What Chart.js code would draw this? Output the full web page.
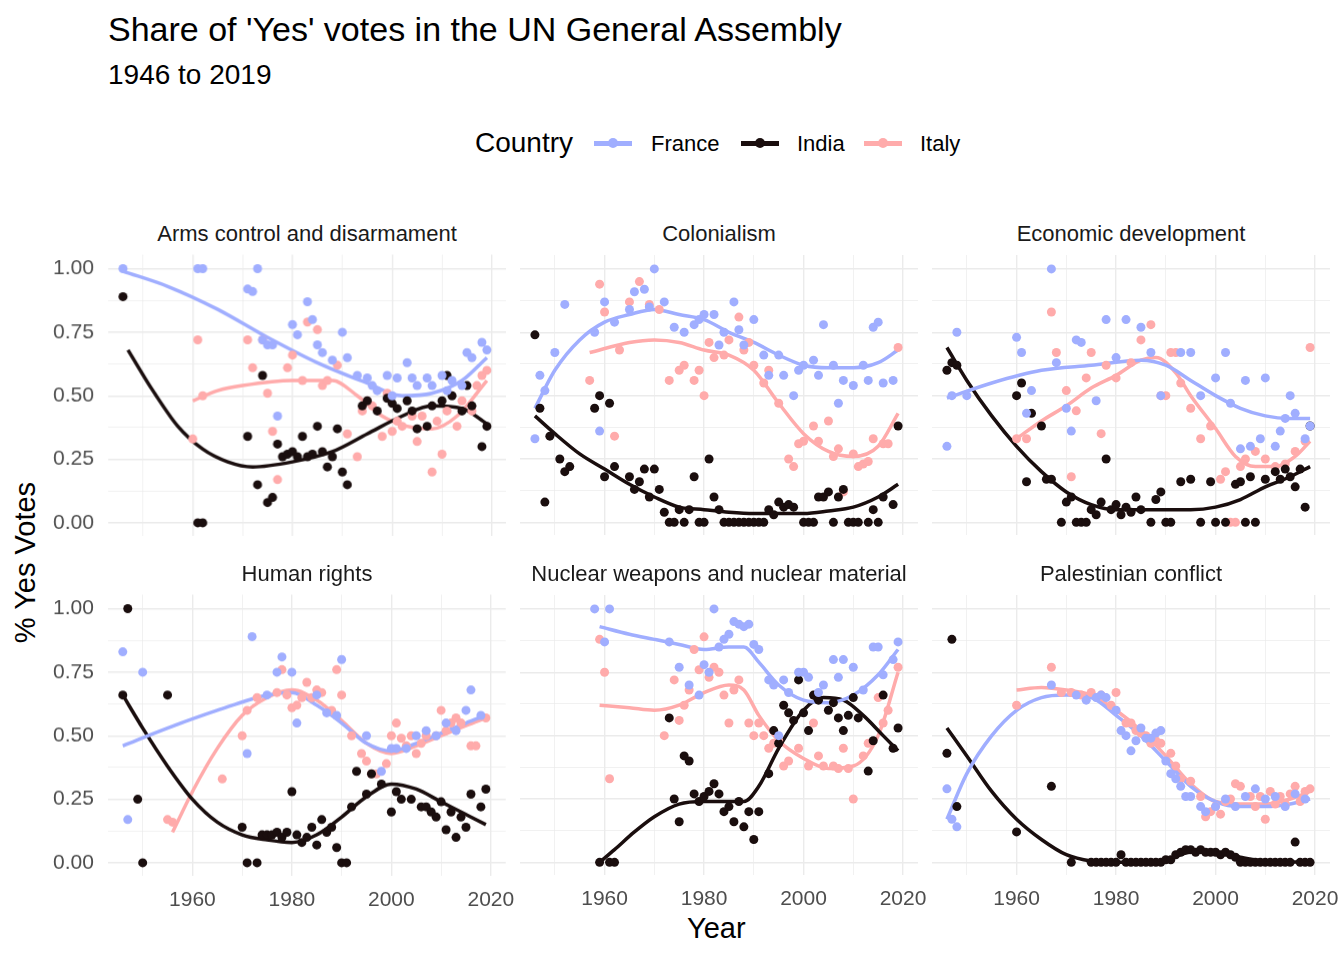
<!DOCTYPE html>
<html>
<head>
<meta charset="utf-8">
<script src="https://cdn.jsdelivr.net/npm/chart.js@4.4.0/dist/chart.umd.min.js"></script>
<style>
  body { margin: 0; background: #fff; font-family: "Liberation Sans", Arial, sans-serif; }
  #wrap { position: relative; width: 1344px; height: 960px; overflow: hidden; }
  .txt { position: absolute; color: #000; white-space: nowrap; }
  .strip { position: absolute; font-size: 22px; color: #1a1a1a; text-align: center; width: 395px; }
  .cell { position: absolute; }
  .key { position: absolute; width: 38px; height: 5px; top: 141px; }
  .key span { position: absolute; left: 14px; top: -3px; width: 10px; height: 10px; border-radius: 50%; }
</style>
</head>
<body>
<div id="wrap">
  <div class="txt" style="left:108px;top:10px;font-size:34px;">Share of 'Yes' votes in the UN General Assembly</div>
  <div class="txt" style="left:108px;top:59px;font-size:28px;">1946 to 2019</div>
  <div class="txt" style="left:475px;top:127px;font-size:28px;">Country</div>
  <div class="key" style="left:594px;background:#A0AEFF"><span style="background:#A0AEFF"></span></div>
  <div class="txt" style="left:651px;top:131px;font-size:22px;">France</div>
  <div class="key" style="left:741px;background:#1A0E0E"><span style="background:#1A0E0E"></span></div>
  <div class="txt" style="left:797px;top:131px;font-size:22px;">India</div>
  <div class="key" style="left:864px;background:#FFABAB"><span style="background:#FFABAB"></span></div>
  <div class="txt" style="left:920px;top:131px;font-size:22px;">Italy</div>
  <div class="txt" style="left:687px;top:912px;font-size:29px;">Year</div>
  <div class="txt" style="left:-55px;top:546px;font-size:29px;transform:rotate(-90deg);">% Yes Votes</div>
</div>
<script>
// Facet titles
const facets = ['Arms control and disarmament', 'Colonialism', 'Economic development',
  'Human rights', 'Nuclear weapons and nuclear material', 'Palestinian conflict'];
const countries = ['France', 'India', 'Italy'];
const colors = { France: '#A0AEFF', India: '#1A0E0E', Italy: '#FFABAB' };
const yTicks = [0, 0.25, 0.5, 0.75, 1];
const xTicks = [1960, 1980, 2000, 2020];

// --- Arms control and disarmament ---
const armsFrance = [[1946,1],[1961,1],[1962,1],[1971,.92],[1972,.91],[1973,1],[1974,.72],[1975,.7],[1976,.7],[1977,.42],[1980,.78],[1981,.74],[1983,.87],[1984,.8],[1985,.7],[1986,.67],[1988,.64],[1990,.75],[1991,.65],[1993,.58],[1995,.57],[1996,.54],[1997,.52],[1999,.58],[2000,.5],[2001,.57],[2003,.63],[2004,.57],[2005,.54],[2007,.57],[2008,.54],[2010,.58],[2011,.52],[2012,.56],[2014,.54],[2015,.67],[2016,.65],[2018,.71],[2019,.68]];
const armsIndia = [[1946,.89],[1961,0],[1962,0],[1971,.34],[1973,.15],[1974,.58],[1975,.08],[1976,.1],[1977,.31],[1978,.26],[1979,.27],[1980,.28],[1981,.26],[1982,.34],[1983,.26],[1984,.27],[1985,.38],[1986,.28],[1987,.22],[1988,.26],[1989,.37],[1990,.2],[1991,.15],[1994,.46],[1995,.48],[1997,.44],[1999,.49],[2000,.47],[2001,.45],[2003,.48],[2004,.44],[2005,.37],[2007,.38],[2008,.46],[2010,.48],[2011,.58],[2012,.5],[2014,.44],[2015,.54],[2016,.46],[2018,.3],[2019,.38]];
const armsItaly = [[1960,.33],[1961,.72],[1962,.5],[1971,.72],[1972,.61],[1974,.72],[1975,.51],[1976,.36],[1977,.17],[1979,.61],[1980,.66],[1982,.56],[1983,.79],[1985,.76],[1986,.54],[1987,.56],[1989,.62],[1991,.35],[1993,.26],[1994,.44],[1995,.48],[1996,.46],[1998,.34],[1999,.51],[2000,.36],[2001,.4],[2002,.38],[2004,.42],[2005,.32],[2006,.42],[2008,.2],[2009,.4],[2010,.27],[2011,.44],[2013,.38],[2014,.48],[2016,.44],[2017,.54],[2018,.58],[2019,.6]];
const armsFranceFit = [[1946,.99],[1955,.93],[1965,.84],[1975,.73],[1985,.63],[1995,.55],[2002,.5],[2008,.51],[2014,.56],[2019,.65]];
const armsIndiaFit = [[1947,.68],[1952,.52],[1957,.38],[1962,.29],[1967,.24],[1972,.22],[1980,.24],[1988,.28],[1995,.35],[2002,.42],[2008,.46],[2014,.45],[2019,.39]];
const armsItalyFit = [[1960,.48],[1965,.52],[1970,.54],[1980,.56],[1988,.56],[1993,.5],[1998,.42],[2003,.38],[2008,.37],[2013,.42],[2019,.56]];

// --- Colonialism ---
const colFrance = [[1946,.33],[1947,.58],[1948,.52],[1950,.67],[1952,.86],[1958,.75],[1959,.36],[1960,.87],[1962,.79],[1965,.84],[1966,.91],[1968,.92],[1969,.85],[1970,1],[1972,.87],[1974,.77],[1976,.75],[1978,.78],[1979,.8],[1980,.82],[1982,.82],[1983,.7],[1984,.75],[1986,.87],[1987,.76],[1988,.7],[1990,.8],[1992,.66],[1993,.58],[1995,.66],[1996,.58],[1998,.5],[1999,.6],[2000,.62],[2002,.64],[2003,.58],[2004,.78],[2006,.62],[2007,.47],[2008,.56],[2010,.54],[2012,.62],[2013,.56],[2014,.77],[2015,.79],[2016,.55],[2018,.56]];
const colIndia = [[1946,.74],[1947,.45],[1948,.08],[1949,.34],[1951,.25],[1952,.2],[1953,.22],[1958,.45],[1959,.5],[1960,.18],[1961,.47],[1962,.22],[1965,.18],[1966,.13],[1967,.16],[1968,.21],[1969,.1],[1970,.21],[1971,.13],[1972,.04],[1973,0],[1974,0],[1975,.05],[1976,0],[1977,.05],[1978,.18],[1979,0],[1980,0],[1981,.25],[1982,.1],[1983,.05],[1984,0],[1985,0],[1986,0],[1987,0],[1988,0],[1989,0],[1990,0],[1991,0],[1992,0],[1993,.05],[1994,.03],[1995,.08],[1996,.06],[1997,.07],[1998,.06],[2000,0],[2001,0],[2002,0],[2003,.1],[2004,.1],[2005,.12],[2006,0],[2007,.1],[2008,.13],[2009,0],[2010,0],[2011,0],[2013,0],[2014,.05],[2015,0],[2016,.1],[2018,.07],[2019,.38]];
const colItaly = [[1957,.56],[1959,.94],[1960,.83],[1962,.34],[1963,.68],[1965,.87],[1967,.95],[1969,.86],[1971,.84],[1973,.56],[1975,.6],[1976,.62],[1978,.56],[1979,.6],[1980,.5],[1981,.71],[1982,.65],[1984,.66],[1985,.72],[1987,.81],[1988,.68],[1989,.71],[1990,.62],[1992,.55],[1993,.6],[1995,.47],[1997,.25],[1998,.22],[1999,.31],[2000,.32],[2002,.38],[2003,.32],[2005,.4],[2006,.26],[2007,.29],[2008,.12],[2010,.27],[2011,.22],[2012,.23],[2013,.24],[2014,.33],[2016,.31],[2017,.31],[2019,.69]];
const colFranceFit = [[1946,.45],[1950,.6],[1955,.72],[1960,.79],[1965,.82],[1970,.84],[1975,.82],[1980,.8],[1985,.75],[1990,.71],[1995,.66],[2000,.62],[2005,.61],[2010,.61],[2015,.63],[2019,.68]];
const colIndiaFit = [[1946,.42],[1950,.35],[1955,.27],[1960,.21],[1965,.15],[1970,.1],[1975,.06],[1980,.05],[1985,.04],[1990,.035],[1995,.035],[2000,.035],[2005,.045],[2010,.06],[2015,.1],[2019,.15]];
const colItalyFit = [[1957,.67],[1965,.71],[1970,.72],[1975,.71],[1980,.68],[1985,.66],[1990,.6],[1995,.47],[2000,.35],[2005,.28],[2010,.26],[2015,.3],[2019,.43]];

// --- Economic development ---
const ecoFrance = [[1946,.3],[1947,.5],[1948,.75],[1950,.5],[1960,.73],[1961,.67],[1962,.43],[1963,.52],[1967,1],[1968,.63],[1970,.45],[1971,.36],[1972,.72],[1973,.71],[1976,.48],[1978,.8],[1980,.65],[1982,.8],[1985,.77],[1987,.67],[1989,.5],[1993,.67],[1995,.67],[1997,.5],[2000,.57],[2002,.67],[2003,.47],[2005,.29],[2006,.56],[2007,.3],[2009,.33],[2010,.57],[2012,.3],[2013,.36],[2014,.41],[2015,.5],[2016,.43],[2018,.33],[2019,.38]];
const ecoIndia = [[1946,.6],[1947,.63],[1948,.62],[1960,.5],[1961,.55],[1962,.16],[1963,.43],[1965,.38],[1966,.17],[1967,.17],[1969,0],[1970,.08],[1971,.1],[1972,0],[1973,0],[1974,0],[1975,.05],[1976,.03],[1977,.08],[1978,.25],[1979,.05],[1980,.07],[1981,.03],[1982,.06],[1983,.04],[1984,.1],[1985,.05],[1987,0],[1988,.09],[1989,.12],[1990,0],[1991,0],[1993,.16],[1995,.17],[1997,0],[1999,.16],[2000,0],[2002,0],[2004,.15],[2005,.16],[2006,0],[2007,.18],[2008,0],[2010,.17],[2012,.2],[2013,.17],[2014,.21],[2015,.18],[2016,.14],[2017,.21],[2018,.06],[2019,.38]];
const ecoItaly = [[1960,.33],[1962,.33],[1967,.83],[1968,.67],[1970,.52],[1971,.18],[1972,.44],[1974,.57],[1975,.67],[1977,.35],[1978,.62],[1980,.57],[1983,.63],[1985,.72],[1987,.78],[1989,.5],[1990,.5],[1991,.67],[1992,.67],[1993,.55],[1995,.45],[1997,.33],[1999,.38],[2001,.17],[2002,.2],[2003,0],[2004,0],[2005,.22],[2006,.25],[2008,.28],[2010,.25],[2012,.22],[2014,.23],[2016,.28],[2018,.32],[2019,.69]];
const ecoFranceFit = [[1946,.49],[1955,.55],[1965,.6],[1975,.62],[1985,.64],[1990,.62],[1995,.56],[2000,.5],[2005,.45],[2010,.42],[2015,.41],[2019,.41]];
const ecoIndiaFit = [[1946,.69],[1950,.56],[1955,.42],[1960,.3],[1965,.2],[1970,.12],[1975,.07],[1980,.05],[1990,.05],[1995,.05],[2000,.06],[2005,.09],[2010,.14],[2015,.18],[2019,.22]];
const ecoItalyFit = [[1960,.33],[1965,.4],[1970,.46],[1975,.53],[1980,.58],[1985,.64],[1988,.65],[1992,.59],[1995,.5],[2000,.37],[2004,.26],[2008,.22],[2012,.22],[2016,.26],[2019,.32]];

// --- Human rights ---
const hrFrance = [[1946,.83],[1947,.17],[1950,.75],[1971,.43],[1972,.89],[1975,.66],[1977,.75],[1978,.81],[1980,.75],[1981,.55],[1985,.66],[1987,.59],[1989,.58],[1990,.8],[1995,.5],[1998,.36],[2000,.45],[2001,.45],[2003,.45],[2005,.5],[2007,.52],[2009,.5],[2011,.55],[2013,.52],[2015,.6],[2016,.68],[2018,.58]];
const hrIndia = [[1946,.66],[1947,1],[1949,.25],[1950,0],[1955,.66],[1970,.14],[1971,0],[1973,0],[1974,.11],[1975,.11],[1976,.11],[1977,.12],[1978,.1],[1979,.12],[1980,.28],[1981,.11],[1982,.08],[1983,.1],[1984,.14],[1985,.07],[1986,.17],[1987,.12],[1988,.14],[1989,.06],[1990,0],[1991,0],[1992,.22],[1993,.36],[1995,.27],[1996,.35],[1998,.31],[2000,.2],[2001,.28],[2002,.25],[2004,.25],[2006,.22],[2007,.22],[2008,.2],[2009,.18],[2010,.24],[2011,.13],[2012,.2],[2013,.1],[2014,.18],[2015,.14],[2016,.27],[2018,.22],[2019,.29]];
const hrItaly = [[1955,.17],[1956,.16],[1966,.33],[1970,.5],[1971,.6],[1973,.65],[1977,.67],[1978,.76],[1979,.66],[1980,.61],[1981,.62],[1982,.65],[1983,.71],[1984,.65],[1985,.68],[1986,.67],[1988,.6],[1989,.76],[1990,.66],[1992,.5],[1994,.43],[1995,.4],[1996,.35],[1997,.35],[1999,.39],[2000,.5],[2001,.55],[2002,.49],[2003,.46],[2004,.5],[2005,.43],[2006,.47],[2007,.5],[2009,.5],[2010,.6],[2011,.52],[2012,.55],[2013,.57],[2014,.55],[2016,.46],[2017,.46],[2019,.57]];
const hrFranceFit = [[1946,.46],[1955,.53],[1965,.6],[1975,.66],[1980,.67],[1985,.62],[1990,.55],[1995,.47],[2000,.44],[2005,.47],[2010,.51],[2015,.55],[2019,.58]];
const hrIndiaFit = [[1946,.66],[1950,.53],[1955,.38],[1960,.25],[1965,.16],[1970,.11],[1975,.09],[1980,.08],[1985,.11],[1990,.18],[1995,.26],[2000,.31],[2005,.29],[2010,.24],[2015,.19],[2019,.15]];
const hrItalyFit = [[1956,.12],[1960,.28],[1965,.45],[1970,.58],[1975,.65],[1980,.68],[1985,.64],[1990,.56],[1995,.47],[2000,.43],[2005,.46],[2010,.5],[2015,.54],[2019,.57]];

// --- Nuclear weapons and nuclear material ---
const nucFrance = [[1958,1],[1960,.87],[1961,1],[1973,.87],[1975,.77],[1977,.7],[1979,.66],[1980,.78],[1981,.75],[1982,1],[1983,.85],[1984,.88],[1985,.9],[1986,.95],[1987,.94],[1988,.93],[1989,.94],[1990,.86],[1991,.84],[1993,.72],[1994,.7],[1995,.5],[1996,.72],[1997,.67],[1999,.75],[2000,.75],[2001,.73],[2003,.67],[2004,.7],[2006,.8],[2007,.73],[2008,.8],[2010,.77],[2012,.68],[2014,.85],[2015,.85],[2016,.74],[2018,.8],[2019,.87]];
const nucIndia = [[1959,0],[1961,0],[1962,0],[1973,.57],[1974,.25],[1975,.16],[1976,.42],[1977,.4],[1978,.27],[1979,.24],[1980,.26],[1981,.28],[1982,.31],[1983,.27],[1984,.2],[1985,.22],[1986,.16],[1987,.24],[1988,.14],[1989,.2],[1990,.09],[1991,.2],[1993,.35],[1994,.52],[1995,.47],[1996,.62],[1997,.59],[1998,.56],[1999,.72],[2000,.59],[2001,.52],[2002,.66],[2003,.64],[2005,.6],[2006,.63],[2007,.57],[2008,.52],[2009,.58],[2010,.65],[2011,.57],[2013,.36],[2014,.48],[2016,.66],[2018,.45],[2019,.53]];
const nucItaly = [[1959,.88],[1960,.75],[1961,.33],[1972,.5],[1974,.72],[1975,.56],[1976,.62],[1977,.68],[1978,.84],[1979,.76],[1980,.89],[1981,.73],[1982,.77],[1983,.75],[1984,.66],[1985,.55],[1986,.68],[1987,.72],[1989,.55],[1990,.5],[1991,.55],[1992,.5],[1993,.45],[1994,.47],[1995,.48],[1996,.38],[1997,.4],[1999,.45],[2001,.38],[2002,.55],[2003,.42],[2004,.38],[2006,.38],[2007,.37],[2008,.45],[2009,.37],[2010,.25],[2012,.42],[2013,.47],[2015,.65],[2016,.55],[2017,.6],[2019,.77]];
const nucFranceFit = [[1959,.93],[1965,.9],[1970,.88],[1975,.86],[1980,.84],[1985,.85],[1988,.85],[1991,.79],[1995,.7],[2000,.64],[2005,.63],[2010,.66],[2015,.74],[2019,.84]];
const nucIndiaFit = [[1959,0],[1962,.05],[1966,.12],[1970,.18],[1975,.23],[1980,.24],[1985,.24],[1988,.24],[1991,.3],[1995,.45],[2000,.6],[2004,.65],[2008,.64],[2012,.58],[2016,.5],[2019,.44]];
const nucItalyFit = [[1959,.62],[1965,.61],[1970,.6],[1975,.62],[1980,.67],[1985,.7],[1988,.68],[1991,.58],[1995,.48],[2000,.41],[2005,.37],[2010,.38],[2015,.5],[2019,.75]];

// --- Palestinian conflict ---
const palFrance = [[1946,.29],[1947,.17],[1948,.14],[1967,.7],[1972,.66],[1974,.64],[1976,.65],[1977,.66],[1978,.65],[1980,.6],[1981,.52],[1982,.5],[1983,.44],[1984,.48],[1985,.53],[1986,.49],[1987,.49],[1988,.51],[1989,.52],[1990,.4],[1991,.35],[1992,.33],[1993,.3],[1994,.26],[1995,.26],[1997,.22],[1998,.2],[2000,.22],[2002,.25],[2004,.22],[2006,.26],[2008,.29],[2010,.25],[2012,.26],[2014,.22],[2016,.27],[2018,.25]];
const palIndia = [[1946,.43],[1947,.88],[1948,.22],[1960,.12],[1967,.3],[1971,0],[1975,0],[1976,0],[1977,0],[1978,0],[1979,0],[1980,0],[1981,.03],[1982,0],[1983,0],[1984,0],[1985,0],[1986,0],[1987,0],[1988,0],[1989,0],[1990,.01],[1991,.01],[1992,.03],[1993,.04],[1994,.05],[1995,.05],[1996,.04],[1997,.05],[1998,.04],[1999,.04],[2000,.04],[2001,.03],[2002,.04],[2003,.03],[2004,.02],[2005,0],[2006,0],[2007,0],[2008,0],[2009,0],[2010,0],[2011,0],[2012,0],[2013,0],[2014,0],[2015,0],[2016,.08],[2017,0],[2018,0],[2019,0]];
const palItaly = [[1960,.62],[1967,.77],[1969,.67],[1971,.67],[1973,.66],[1975,.67],[1977,.66],[1979,.62],[1980,.67],[1982,.55],[1983,.55],[1984,.52],[1985,.51],[1986,.5],[1987,.47],[1988,.48],[1989,.47],[1991,.43],[1992,.38],[1993,.33],[1995,.32],[1997,.26],[1998,.18],[1999,.2],[2000,.22],[2001,.19],[2002,.24],[2003,.25],[2004,.31],[2005,.3],[2007,.26],[2008,.22],[2009,.26],[2010,.17],[2011,.28],[2012,.23],[2013,.26],[2014,.23],[2015,.27],[2016,.3],[2017,.24],[2018,.28],[2019,.29]];
const palFranceFit = [[1946,.17],[1950,.35],[1955,.5],[1960,.6],[1965,.65],[1970,.66],[1975,.65],[1980,.58],[1985,.5],[1990,.4],[1995,.3],[2000,.24],[2005,.22],[2010,.22],[2015,.23],[2019,.25]];
const palIndiaFit = [[1946,.53],[1950,.42],[1955,.28],[1960,.17],[1965,.09],[1970,.03],[1975,.005],[1980,0],[1990,.01],[1995,.04],[2000,.04],[2005,.02],[2010,.005],[2019,0]];
const palItalyFit = [[1960,.68],[1965,.69],[1970,.68],[1975,.66],[1980,.6],[1985,.52],[1990,.42],[1995,.31],[2000,.24],[2005,.23],[2010,.23],[2015,.25],[2019,.28]];

const panelPoints = [
  [armsFrance, armsIndia, armsItaly], [colFrance, colIndia, colItaly], [ecoFrance, ecoIndia, ecoItaly],
  [hrFrance, hrIndia, hrItaly], [nucFrance, nucIndia, nucItaly], [palFrance, palIndia, palItaly]
];
const panelFits = [
  [armsFranceFit, armsIndiaFit, armsItalyFit], [colFranceFit, colIndiaFit, colItalyFit], [ecoFranceFit, ecoIndiaFit, ecoItalyFit],
  [hrFranceFit, hrIndiaFit, hrItalyFit], [nucFranceFit, nucIndiaFit, nucItalyFit], [palFranceFit, palIndiaFit, palItalyFit]
];

const wrap = document.getElementById('wrap');
const plotLefts = [108, 520, 932];
const plotTops = [255, 595];
const plotW = 398, plotH = 280;
const toXY = arr => arr.map(p => ({ x: p[0], y: p[1] }));

facets.forEach((name, i) => {
  const col = i % 3, row = Math.floor(i / 3);
  const showY = col === 0, showX = row === 1;

  const strip = document.createElement('div');
  strip.className = 'strip';
  strip.style.left = plotLefts[col] + 'px';
  strip.style.width = plotW + 'px';
  strip.style.top = (plotTops[row] - 34) + 'px';
  strip.textContent = name;
  wrap.appendChild(strip);

  // canvas sits inside a fixed box; it is shifted after layout so the chart area lands on the plot box
  const cell = document.createElement('div');
  cell.className = 'cell';
  const canvas = document.createElement('canvas');
  cell.appendChild(canvas);
  wrap.appendChild(cell);
  let w = plotW + (showY ? 70 : 0), h = plotH + (showX ? 45 : 0);
  cell.style.width = w + 'px'; cell.style.height = h + 'px';

  const datasets = [];
  countries.forEach((c, k) => {
    datasets.push({
      type: 'scatter', label: c, data: toXY(panelPoints[i][k]),
      backgroundColor: colors[c], borderWidth: 0, pointRadius: 4.5
    });
  });
  countries.forEach((c, k) => {
    datasets.push({
      type: 'line', label: c + ' fit', data: toXY(panelFits[i][k]),
      borderColor: colors[c], borderWidth: 3.5, pointRadius: 0,
      cubicInterpolationMode: 'monotone', fill: false
    });
  });

  const chart = new Chart(canvas.getContext('2d'), {
    type: 'scatter',
    data: { datasets },
    options: {
      responsive: true, maintainAspectRatio: false, animation: false,
      layout: { padding: 0, autoPadding: false },
      clip: false,
      plugins: { legend: { display: false }, tooltip: { enabled: false } },
      scales: {
        x: {
          type: 'linear', min: 1943, max: 2023, display: true,
          afterBuildTicks: s => { s.ticks = [1950, 1960, 1970, 1980, 1990, 2000, 2010, 2020].map(v => ({ value: v })); },
          border: { display: false },
          grid: { color: '#EBEBEB', drawTicks: false, lineWidth: ctx => (ctx.tick && xTicks.includes(ctx.tick.value)) ? 1.4 : 0.7 },
          ticks: {
            display: showX, padding: 12, color: '#4D4D4D', font: { size: 21, family: 'Liberation Sans' },
            autoSkip: false, maxRotation: 0,
            callback: v => xTicks.includes(v) ? String(v) : ''
          }
        },
        y: {
          type: 'linear', min: -0.05, max: 1.055,
          afterBuildTicks: s => { s.ticks = [0, 0.125, 0.25, 0.375, 0.5, 0.625, 0.75, 0.875, 1].map(v => ({ value: v })); },
          border: { display: false },
          grid: { color: '#EBEBEB', drawTicks: false, lineWidth: ctx => (ctx.tick && yTicks.includes(ctx.tick.value)) ? 1.4 : 0.7 },
          ticks: {
            display: showY, padding: 14, color: '#4D4D4D', font: { size: 21, family: 'Liberation Sans' },
            autoSkip: false,
            callback: v => yTicks.includes(v) ? v.toFixed(2) : ''
          }
        }
      }
    }
  });

  // fit the chart area to the plot box: grow the canvas by whatever the axes took, then shift it
  for (let pass = 0; pass < 2; pass++) {
    const a = chart.chartArea;
    w += plotW - (a.right - a.left);
    h += plotH - (a.bottom - a.top);
    cell.style.width = w + 'px'; cell.style.height = h + 'px';
    chart.resize(w, h);
  }
  const a = chart.chartArea;
  cell.style.left = (plotLefts[col] - a.left) + 'px';
  cell.style.top = (plotTops[row] - a.top) + 'px';
});
</script>
</body>
</html>
